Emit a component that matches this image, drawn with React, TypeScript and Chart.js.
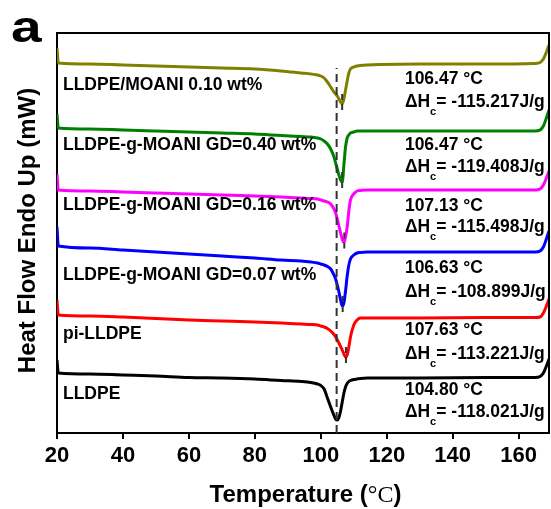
import React, { useEffect, useRef } from "react";
import { Chart, registerables } from "chart.js";

Chart.register(...registerables);

// ---- data ----
const temps = [20, 20.4, 30, 40, 50, 60, 70, 80, 88, 94, 97, 99, 100, 101, 102, 103, 104, 104.5, 105, 105.5, 106, 106.5, 107, 107.5, 108, 108.5, 109, 110, 111, 112, 114, 118, 130, 150, 165, 166.5, 167.5, 168.3, 169.2];

const oliveVals = [385, 370, 369, 368, 367, 366, 365, 364, 362, 360, 359, 358, 357, 355, 351, 346, 341, 339, 337, 334, 331, 329, 334, 343, 352, 360, 364, 366, 367, 367.5, 368, 368.5, 369, 369, 369.5, 370.5, 374, 380, 388];
const greenVals = [319, 305, 304, 303, 302, 301, 300, 299, 297.5, 296.5, 296, 295, 294, 292, 289, 284, 276, 270, 264, 258, 253, 251, 268, 286, 295, 298, 300, 301, 302, 302, 302, 302, 302, 302, 302, 303, 307, 314, 323];
const magentaVals = [259, 243, 242, 241, 240, 239, 238, 237, 236, 235, 234.5, 234, 233, 232, 231, 229, 224, 220, 214, 207, 200, 194, 190.5, 196, 206, 222, 233, 239, 242, 242.5, 243, 243, 243, 243, 243, 244, 248, 254, 262];
const blueVals = [206, 187, 185, 183, 181, 179, 177, 175, 173, 172, 171, 170, 169, 168, 166.5, 164, 158, 154, 148, 141, 133, 127, 130, 142, 157, 168, 174, 178, 180, 180.5, 181, 181, 181, 181, 181, 182, 186, 193, 202];
const redVals = [133, 118, 117, 116, 114.5, 113, 112, 111, 110, 109, 108.5, 108, 107, 106, 104.5, 102, 98.5, 96, 93, 90, 86.5, 83, 79, 76, 78, 86, 96, 108, 113, 115, 115, 115, 115, 115.5, 115.5, 116, 120, 126, 134];
const blackVals = [73, 60, 59, 58, 57, 55.5, 55, 54, 52.5, 51.5, 50.5, 49, 47.5, 44, 35, 26, 17.5, 14, 13, 15.5, 22, 31, 40, 46, 49.5, 51.5, 52.5, 53.5, 54, 54.5, 55, 55, 55, 55.5, 55.5, 56.5, 60, 66, 74];

const seriesNames = [
  "LLDPE/MOANI 0.10 wt%",
  "LLDPE-g-MOANI GD=0.40 wt%",
  "LLDPE-g-MOANI GD=0.16 wt%",
  "LLDPE-g-MOANI GD=0.07 wt%",
  "pi-LLDPE",
  "LLDPE",
];
const peakTemps = [106.47, 106.47, 107.13, 106.63, 107.63, 104.8];
const enthalpies = [-115.217, -119.408, -115.498, -108.899, -113.221, -118.021];
const xTicks = [20, 40, 60, 80, 100, 120, 140, 160];
const refLineTemp = 104.8;

// ---- layout / style (not data) ----
const seriesValues = [oliveVals, greenVals, magentaVals, blueVals, redVals, blackVals];
const colors = ["#808000", "#008000", "#ff00ff", "#0000ff", "#ff0000", "#000000"];
const nameBaseV = [343, 283, 223, 153, 94, 34];
const tempBaseV = [349, 283, 222, 160, 98, 38];
const dhBaseV = [326, 261, 201, 136, 74, 16];
const annotX = 125.5;
const nameX = 21.8;
const SANS = "'Liberation Sans', Arial, sans-serif";
const SERIF = "'Liberation Serif', 'DejaVu Serif', serif";

const decor = {
  id: "decor",
  afterDraw(chart: any) {
    const { ctx, chartArea: ca, scales } = chart;
    const x = scales.x;
    const y = scales.y;
    ctx.save();
    // frame top/right
    ctx.strokeStyle = "#000";
    ctx.lineWidth = 2;
    ctx.beginPath();
    ctx.moveTo(ca.left - 1, ca.top);
    ctx.lineTo(ca.right, ca.top);
    ctx.lineTo(ca.right, ca.bottom);
    ctx.stroke();

    ctx.fillStyle = "#000";
    ctx.textBaseline = "alphabetic";
    ctx.textAlign = "left";

    // series names
    ctx.font = `bold 17.5px ${SANS}`;
    seriesNames.forEach((n, i) => {
      ctx.fillText(n, x.getPixelForValue(nameX), y.getPixelForValue(nameBaseV[i]));
    });

    // annotations
    const ax = x.getPixelForValue(annotX);
    seriesNames.forEach((_, i) => {
      ctx.font = `bold 17.5px ${SANS}`;
      ctx.fillText(`${peakTemps[i].toFixed(2)} \u00B0C`, ax, y.getPixelForValue(tempBaseV[i]));
      const by = y.getPixelForValue(dhBaseV[i]);
      let cx = ax;
      ctx.fillText("\u0394H", cx, by);
      cx += ctx.measureText("\u0394H").width;
      ctx.font = `bold 11px ${SANS}`;
      ctx.fillText("c", cx, by + 8);
      cx += ctx.measureText("c").width;
      ctx.font = `bold 17.5px ${SANS}`;
      ctx.fillText(`= ${enthalpies[i].toFixed(3)}J/g`, cx, by);
    });

    // panel letter
    ctx.save();
    ctx.translate(11, 42);
    ctx.scale(1.25, 1);
    ctx.font = `bold 44px ${SANS}`;
    ctx.fillText("a", 0, 0);
    ctx.restore();

    // x title
    const p1 = "Temperature (";
    const p2 = "\u00B0C";
    const p3 = ")";
    ctx.font = `bold 24px ${SANS}`;
    const w1 = ctx.measureText(p1).width;
    const w3 = ctx.measureText(p3).width;
    ctx.font = `24px ${SERIF}`;
    const w2 = ctx.measureText(p2).width;
    let tx = 305.5 - (w1 + w2 + w3) / 2;
    const ty = 502;
    ctx.font = `bold 24px ${SANS}`;
    ctx.fillText(p1, tx, ty);
    tx += w1;
    ctx.font = `24px ${SERIF}`;
    ctx.fillText(p2, tx, ty);
    tx += w2;
    ctx.font = `bold 24px ${SANS}`;
    ctx.fillText(p3, tx, ty);

    // y title
    ctx.save();
    ctx.translate(35, 230.5);
    ctx.rotate(-Math.PI / 2);
    ctx.textAlign = "center";
    ctx.font = `bold 24px ${SANS}`;
    ctx.fillText("Heat Flow Endo Up (mW)", 0, 0);
    ctx.restore();

    ctx.restore();
  },
};

export default function App() {
  const ref = useRef<HTMLCanvasElement | null>(null);
  useEffect(() => {
    document.body.style.margin = "0";
    const canvas = ref.current;
    if (!canvas) return;

    const curveSets = seriesValues.map((vals, i) => ({
      data: temps.map((t, k) => ({ x: t, y: vals[k] })),
      borderColor: colors[i],
      borderWidth: 3,
      pointRadius: 0,
      cubicInterpolationMode: "monotone" as const,
      fill: false,
      order: 1,
    }));

    const markerSets = seriesValues.slice(0, 5).map((vals, i) => {
      const mn = Math.min(...vals);
      return {
        data: [
          { x: peakTemps[i], y: mn + 10 },
          { x: peakTemps[i], y: mn - 9 },
        ],
        borderColor: "#333333",
        borderWidth: 2,
        borderDash: [6, 4],
        pointRadius: 0,
        fill: false,
        order: 0,
      };
    });

    const refSet = {
      data: [
        { x: refLineTemp, y: 0 },
        { x: refLineTemp, y: 365 },
      ],
      borderColor: "#333333",
      borderWidth: 2,
      borderDash: [8, 5],
      pointRadius: 0,
      fill: false,
      order: 0,
    };

    const chart = new Chart(canvas, {
      type: "line",
      data: { datasets: [refSet, ...markerSets, ...curveSets] as any },
      options: {
        animation: false,
        responsive: false,
        maintainAspectRatio: false,
        layout: { padding: { left: 0, top: 33, right: 2, bottom: 0 } },
        plugins: { legend: { display: false }, tooltip: { enabled: false } },
        scales: {
          x: {
            type: "linear",
            min: 20,
            max: 169.2,
            afterBuildTicks: (s: any) => {
              s.ticks = xTicks.map((v) => ({ value: v }));
            },
            afterFit: (s: any) => {
              s.height = 76;
            },
            grid: {
              drawOnChartArea: false,
              drawTicks: true,
              tickLength: 6,
              color: "#000",
              lineWidth: 2,
            },
            border: { display: true, color: "#000", width: 2 },
            ticks: {
              color: "#000",
              padding: 4,
              maxRotation: 0,
              font: { family: SANS, size: 22, weight: "bold" },
            },
          },
          y: {
            type: "linear",
            min: 0,
            max: 400,
            afterFit: (s: any) => {
              s.width = 57;
            },
            grid: { display: false },
            border: { display: true, color: "#000", width: 2 },
            ticks: { display: false },
          },
        },
      },
      plugins: [decor],
    });
    return () => chart.destroy();
  }, []);

  return (
    <div style={{ position: "absolute", left: 0, top: 0, width: 551, height: 509, background: "#fff" }}>
      <canvas ref={ref} width={551} height={509} />
    </div>
  );
}
